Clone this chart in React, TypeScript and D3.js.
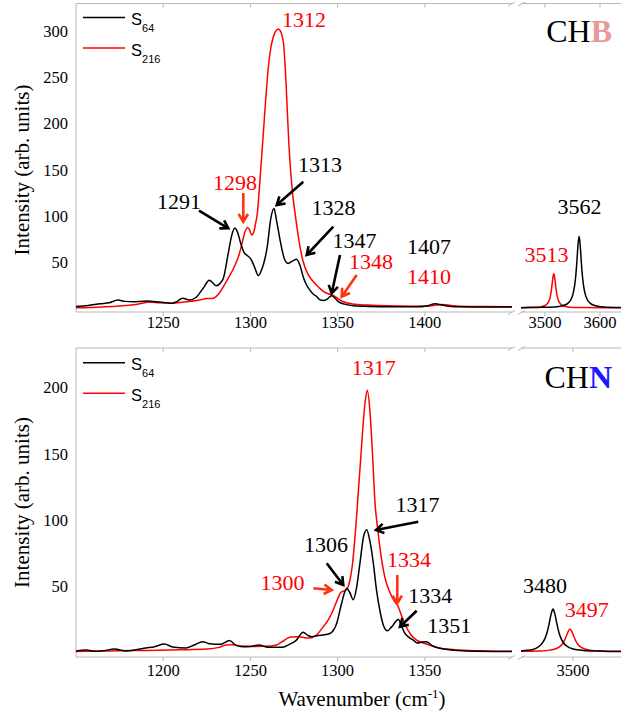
import React from 'react';
import * as d3 from 'd3';

type Pt = [number, number];

// ---- CHB panel data (wavenumber, intensity) ----
const chbS64Low: Pt[] = [[1200,2],[1207,3],[1214,5],[1219,6],[1224,9],[1228,7.5],[1233,7],[1237,7.5],[1241,8],[1246,7],[1252,6],[1255,5.5],[1258,7.5],[1261,11],[1265,9],[1269,12],[1273,22],[1276.5,30.5],[1280.5,24.5],[1283,28],[1284.5,32.6],[1287.3,59.6],[1289.3,79],[1291,87],[1292.5,83],[1294.5,70],[1296.5,60],[1298,57.5],[1300.7,52],[1302.5,44],[1304.5,35.5],[1306.5,42],[1308.5,55],[1309.7,67],[1311.5,95],[1313.5,108],[1315,95],[1317,74],[1319.8,52],[1321.7,48.5],[1324,51],[1326.5,53],[1328.5,46],[1330.3,34],[1332,26],[1334,20],[1336,15.5],[1338,12.7],[1340,9],[1342,8.5],[1344,10],[1346.6,13.5],[1348.5,11],[1350.4,7.3],[1354,4.5],[1359,2.7],[1368,2],[1380,1.6],[1395,1.6],[1401,2.5],[1406,5],[1410,3.5],[1415,2],[1430,1.5],[1450,1.3]];
const chbS216Low: Pt[] = [[1200,0.5],[1215,1.5],[1225,2.5],[1233,3.8],[1238,5.5],[1242,6.7],[1248,6],[1256,5.6],[1263,7],[1271,9],[1275,10.5],[1278.7,11],[1282,16],[1284.5,23.5],[1286.5,30],[1288.3,36],[1290,42],[1292,50.5],[1293.5,58],[1295,68.6],[1296.9,83],[1298.4,87.6],[1299.5,85],[1300.7,79.5],[1302,83],[1303,92],[1304,103],[1305.5,139],[1307.4,189],[1309,232],[1310.3,261],[1311.7,282],[1313,293],[1314.5,300],[1316,302.5],[1317.5,299],[1319,287],[1320.4,245],[1322,180],[1324,128],[1325.6,103],[1327.3,80],[1328.4,67],[1330.2,51],[1333,37],[1336,29],[1339,23],[1342,18],[1345,15.5],[1348,13.5],[1351,9.5],[1355,6],[1360,4.5],[1370,3.3],[1385,2.5],[1400,2.2],[1405,3],[1410,4.2],[1415,3],[1425,2],[1450,1.8]];
const chbS64High: Pt[] = [[3456,0.6],[3486,1],[3517,1.5],[3532,2.8],[3542,5.6],[3547,9.3],[3551,15.6],[3554,25],[3556,35.5],[3558,50.5],[3560,68.5],[3562,78],[3564,68.5],[3566,50.5],[3568,35.5],[3570,25],[3573,15.6],[3577,9.3],[3582,5.6],[3592,2.8],[3607,1.4],[3640,0.8]];
const chbS216High: Pt[] = [[3456,0.7],[3471,1],[3491,1.5],[3501,3.3],[3505,5.6],[3508,9],[3510,13.7],[3512,21.2],[3514,31.5],[3516,37.8],[3518,31.5],[3520,21.2],[3522,13.7],[3524,9],[3527,5.6],[3531,3.3],[3541,1.5],[3561,0.8],[3640,0.5]];

// ---- CHN panel data ----
const chnS64Low: Pt[] = [[1150,0.8],[1155.7,1.5],[1161.5,0.5],[1166,1],[1172,2.3],[1178.7,0.8],[1185,1.8],[1190,3],[1195,4],[1200.6,6],[1205.4,3.8],[1213,3],[1217.8,5.3],[1222.6,7.8],[1226.4,6.3],[1233,5.8],[1238,8.6],[1241.7,5],[1245.6,4],[1250,4.2],[1255,5.3],[1260,3.6],[1268.5,3.6],[1272.3,5.8],[1276.1,8.6],[1280.3,14.9],[1283,12.5],[1285.1,11.6],[1289,12.5],[1291.8,12.9],[1295.6,14],[1299.5,21.7],[1302.3,36.9],[1305.2,48.2],[1307,45],[1309,39.5],[1310.8,48],[1312.8,67],[1315,88],[1316.7,92.5],[1318.5,84],[1320.5,67],[1322.3,47],[1324.3,31],[1326.3,20],[1328.5,16],[1331,19],[1334.8,24.5],[1337,18.5],[1338.6,14],[1341,11],[1343.4,9],[1345.6,6.8],[1348.5,7.5],[1351,7.8],[1354,5],[1358.7,2.8],[1365,1.5],[1374,0.8],[1400,0.3]];
const chnS216Low: Pt[] = [[1150,0.3],[1170,0.8],[1190,1.2],[1210,1.6],[1225,2.2],[1232,3.5],[1236,5.3],[1240,5.5],[1245,4.5],[1252,4.2],[1258,4.3],[1265,5.3],[1269,8.5],[1273,11.3],[1278,11.6],[1282,10.6],[1285.1,10.8],[1288,13],[1291.8,19.2],[1295,25],[1297.5,31.8],[1300,40],[1301.8,45],[1303.5,46],[1305,47],[1307.1,54.5],[1308.5,66],[1310,87.4],[1312.8,138],[1315.7,188],[1317,198],[1318.6,181],[1320,150],[1321.5,112],[1323,93],[1325,72],[1327,57],[1330,45],[1333,37.5],[1334.5,35],[1336.5,28],[1339,20],[1342,13],[1346,8.5],[1351,6],[1358,3],[1370,1.5],[1385,0.8],[1400,0.5]];
const chnS64High: Pt[] = [[3448,0.8],[3460,1.8],[3465,3.6],[3469,6.4],[3472,10.3],[3474,14.6],[3476,20.9],[3478,28.3],[3480,32.5],[3482,28.3],[3484,20.9],[3486,14.6],[3488,10.3],[3491,6.4],[3495,3.8],[3500,2.3],[3510,1.2],[3530,0.6],[3548,0.4]];
const chnS216High: Pt[] = [[3448,0.5],[3467,0.8],[3477,1.4],[3482,2.2],[3486,3.6],[3489,5.7],[3491,8],[3493,11.3],[3495,15.2],[3497,17.4],[3499,15.2],[3501,11.3],[3503,8],[3505,5.7],[3508,3.6],[3512,2.2],[3517,1.4],[3527,0.8],[3548,0.5]];

// ---- ticks ----
const chbYTicks = [50, 100, 150, 200, 250, 300];
const chbXTicksLow = [1250, 1300, 1350, 1400];
const chbXTicksHigh = [3500, 3600];
const chnYTicks = [50, 100, 150, 200];
const chnXTicksLow = [1200, 1250, 1300, 1350];
const chnXTicksHigh = [3500];

// ---- peak labels ----
const chbLabelTexts = ['1312', '1298', '1291', '1313', '1328', '1347', '1348', '1407', '1410', '3562', '3513'];
const chnLabelTexts = ['1317', '1317', '1306', '1300', '1334', '1334', '1351', '3480', '3497'];
const seriesNames = ['64', '216'];

const BLACK = '#000000';
const RED = '#ff0000';
const ARROW_RED = '#ff3311';
const AXIS = '#b8b8b8';
const SERIF = "'Liberation Serif', 'Times New Roman', serif";
const SANS = "'Liberation Sans', Arial, sans-serif";

function arrowPath(x1: number, y1: number, x2: number, y2: number, len = 9) {
  const a = Math.atan2(y2 - y1, x2 - x1);
  const s = 0.55;
  const ax = x2 - len * Math.cos(a - s), ay = y2 - len * Math.sin(a - s);
  const bx = x2 - len * Math.cos(a + s), by = y2 - len * Math.sin(a + s);
  return `M${x1},${y1}L${x2},${y2}M${ax},${ay}L${x2},${y2}L${bx},${by}`;
}

interface PanelProps {
  id: string;
  top: number; bottom: number; left: number; lowEnd: number; highStart: number; right: number;
  lowDomain: [number, number]; highDomain: [number, number]; yDomain: [number, number];
  s64Low: Pt[]; s216Low: Pt[]; s64High: Pt[]; s216High: Pt[];
  yTicks: number[]; xTicksLow: number[]; xTicksHigh: number[];
  tickLabelY: number;
  legendY: number;
  title: string; titleColor: string; titleY: number;
  labels: { t: string; x: number; y: number; c: string }[];
  arrows: { x1: number; y1: number; x2: number; y2: number; c: string }[];
  yLabelCenter: number;
}

function Panel(p: PanelProps) {
  const xL = d3.scaleLinear().domain(p.lowDomain).range([p.left, p.lowEnd]);
  const xH = d3.scaleLinear().domain(p.highDomain).range([p.highStart, p.right]);
  const y = d3.scaleLinear().domain(p.yDomain).range([p.bottom, p.top]);
  const lineL = d3.line<Pt>().x(d => xL(d[0])).y(d => y(d[1])).curve(d3.curveMonotoneX);
  const lineH = d3.line<Pt>().x(d => xH(d[0])).y(d => y(d[1])).curve(d3.curveMonotoneX);
  const brk = (yy: number) => (
    <g stroke={AXIS} strokeWidth={1}>
      <line x1={p.lowEnd - 4} y1={yy + 2.5} x2={p.lowEnd + 3} y2={yy - 1.5} />
      <line x1={p.highStart - 3} y1={yy + 2.5} x2={p.highStart + 4} y2={yy - 1.5} />
    </g>
  );
  return (
    <g>
      <defs>
        <clipPath id={`${p.id}-cl`}><rect x={p.left} y={p.top} width={p.lowEnd - p.left} height={p.bottom - p.top} /></clipPath>
        <clipPath id={`${p.id}-ch`}><rect x={p.highStart} y={p.top} width={p.right - p.highStart} height={p.bottom - p.top} /></clipPath>
      </defs>
      <g stroke={AXIS} strokeWidth={1} fill="none">
        <line x1={p.left} y1={p.top} x2={p.left} y2={p.bottom} />
        <line x1={p.left} y1={p.top} x2={p.lowEnd} y2={p.top} />
        <line x1={p.highStart} y1={p.top} x2={p.right} y2={p.top} />
        <line x1={p.left} y1={p.bottom} x2={p.lowEnd} y2={p.bottom} />
        <line x1={p.highStart} y1={p.bottom} x2={p.right} y2={p.bottom} />
        {p.xTicksLow.map(t => (
          <g key={`tl${t}`}>
            <line x1={xL(t)} y1={p.bottom} x2={xL(t)} y2={p.bottom + 4} />
            <line x1={xL(t)} y1={p.top} x2={xL(t)} y2={p.top + 4} />
          </g>
        ))}
        {p.xTicksHigh.map(t => (
          <g key={`th${t}`}>
            <line x1={xH(t)} y1={p.bottom} x2={xH(t)} y2={p.bottom + 4} />
            <line x1={xH(t)} y1={p.top} x2={xH(t)} y2={p.top + 4} />
          </g>
        ))}
      </g>
      {brk(p.top)}
      {brk(p.bottom)}
      <g style={{ fontFamily: SERIF }} fontSize={16.5} fill="#000">
        {p.yTicks.map(t => (
          <text key={`y${t}`} x={68} y={y(t)} dy="0.35em" textAnchor="end">{t}</text>
        ))}
        {p.xTicksLow.map(t => (
          <text key={`xl${t}`} x={xL(t)} y={p.tickLabelY} textAnchor="middle">{t}</text>
        ))}
        {p.xTicksHigh.map(t => (
          <text key={`xh${t}`} x={xH(t)} y={p.tickLabelY} textAnchor="middle">{t}</text>
        ))}
      </g>
      <g fill="none" strokeWidth={1.5} strokeLinejoin="round">
        <g clipPath={`url(#${p.id}-cl)`}>
          <path d={lineL(p.s216Low) || ''} stroke={RED} />
          <path d={lineL(p.s64Low) || ''} stroke={BLACK} />
        </g>
        <g clipPath={`url(#${p.id}-ch)`}>
          <path d={lineH(p.s216High) || ''} stroke={RED} />
          <path d={lineH(p.s64High) || ''} stroke={BLACK} />
        </g>
      </g>
      <g style={{ fontFamily: SANS }}>
        {seriesNames.map((n, i) => {
          const ly = p.legendY + i * 30.5;
          return (
            <g key={n}>
              <line x1={83} x2={125} y1={ly} y2={ly} stroke={i === 0 ? BLACK : RED} strokeWidth={1.5} />
              <text x={131} y={ly + 7.5} fontSize={16.5} fill="#000">S<tspan fontSize={11} dy={7}>{n}</tspan></text>
            </g>
          );
        })}
      </g>
      <text x={612} y={p.titleY} textAnchor="end" style={{ fontFamily: SERIF }} fontSize={32} fill="#000">
        CH<tspan fontWeight="bold" fill={p.titleColor}>{p.title}</tspan>
      </text>
      <g style={{ fontFamily: SERIF }} fontSize={22}>
        {p.labels.map((l, i) => (
          <text key={i} x={l.x} y={l.y} textAnchor="middle" fill={l.c}>{l.t}</text>
        ))}
      </g>
      <g fill="none" strokeWidth={2.6} strokeLinecap="butt" strokeLinejoin="miter">
        {p.arrows.map((a, i) => (
          <path key={i} d={arrowPath(a.x1, a.y1, a.x2, a.y2)} stroke={a.c} />
        ))}
      </g>
      <text transform={`translate(29,${p.yLabelCenter}) rotate(-90)`} textAnchor="middle" style={{ fontFamily: SERIF }} fontSize={21} fill="#000">
        Intensity (arb. units)
      </text>
    </g>
  );
}

export default function App() {
  const L = chbLabelTexts;
  const N = chnLabelTexts;
  return (
    <div style={{ position: 'absolute', left: 0, top: 0 }}>
      <svg width={621} height={716} viewBox="0 0 621 716" style={{ display: 'block', background: '#fff' }}>
        <Panel
          id="chb" top={3.5} bottom={312} left={76} lowEnd={512} highStart={521} right={621}
          lowDomain={[1200, 1450]} highDomain={[3456.4, 3638.2]} yDomain={[-4, 330]}
          s64Low={chbS64Low} s216Low={chbS216Low} s64High={chbS64High} s216High={chbS216High}
          yTicks={chbYTicks} xTicksLow={chbXTicksLow} xTicksHigh={chbXTicksHigh}
          tickLabelY={328} legendY={17.5}
          title="B" titleColor="#ea9999" titleY={41.5}
          yLabelCenter={170}
          labels={[
            { t: L[0], x: 304, y: 27, c: RED },
            { t: L[1], x: 235, y: 189.5, c: RED },
            { t: L[2], x: 179, y: 208.5, c: BLACK },
            { t: L[3], x: 320, y: 172, c: BLACK },
            { t: L[4], x: 333.5, y: 215, c: BLACK },
            { t: L[5], x: 354.5, y: 248, c: BLACK },
            { t: L[6], x: 371, y: 269, c: RED },
            { t: L[7], x: 429, y: 253.5, c: BLACK },
            { t: L[8], x: 429, y: 283.5, c: RED },
            { t: L[9], x: 579.5, y: 213.5, c: BLACK },
            { t: L[10], x: 546.5, y: 262, c: RED },
          ]}
          arrows={[
            { x1: 199, y1: 210.7, x2: 228.3, y2: 228.3, c: BLACK },
            { x1: 243.3, y1: 193, x2: 243.3, y2: 221.7, c: ARROW_RED },
            { x1: 303.3, y1: 181.7, x2: 276.7, y2: 205, c: BLACK },
            { x1: 333.3, y1: 226.7, x2: 306.7, y2: 255, c: BLACK },
            { x1: 340, y1: 255, x2: 331.7, y2: 293.3, c: BLACK },
            { x1: 356.7, y1: 275, x2: 341.7, y2: 296.7, c: ARROW_RED },
          ]}
        />
        <Panel
          id="chn" top={348} bottom={657} left={76} lowEnd={512} highStart={521} right={621}
          lowDomain={[1150, 1400]} highDomain={[3448, 3548]} yDomain={[-3.8, 230]}
          s64Low={chnS64Low} s216Low={chnS216Low} s64High={chnS64High} s216High={chnS216High}
          yTicks={chnYTicks} xTicksLow={chnXTicksLow} xTicksHigh={chnXTicksHigh}
          tickLabelY={676} legendY={362.7}
          title="N" titleColor="#1a1aff" titleY={388.3}
          yLabelCenter={502.5}
          labels={[
            { t: N[0], x: 373.7, y: 375, c: RED },
            { t: N[1], x: 417.5, y: 511.7, c: BLACK },
            { t: N[2], x: 326, y: 551.7, c: BLACK },
            { t: N[3], x: 282.5, y: 590, c: RED },
            { t: N[4], x: 409, y: 566.7, c: RED },
            { t: N[5], x: 430.3, y: 603.3, c: BLACK },
            { t: N[6], x: 449.2, y: 633.3, c: BLACK },
            { t: N[7], x: 545, y: 593.3, c: BLACK },
            { t: N[8], x: 586.7, y: 616.7, c: RED },
          ]}
          arrows={[
            { x1: 418.3, y1: 521.7, x2: 376, y2: 530, c: BLACK },
            { x1: 326.7, y1: 563.3, x2: 343.3, y2: 585, c: BLACK },
            { x1: 313.3, y1: 588.3, x2: 331.7, y2: 590, c: ARROW_RED },
            { x1: 397.3, y1: 575, x2: 397.3, y2: 603.3, c: ARROW_RED },
            { x1: 416.7, y1: 610.7, x2: 400, y2: 626.7, c: BLACK },
          ]}
        />
        <text x={362} y={706} textAnchor="middle" style={{ fontFamily: SERIF }} fontSize={21} fill="#000">
          Wavenumber (cm<tspan fontSize={13} dy={-8}>-1</tspan><tspan dy={8}>)</tspan>
        </text>
      </svg>
    </div>
  );
}
